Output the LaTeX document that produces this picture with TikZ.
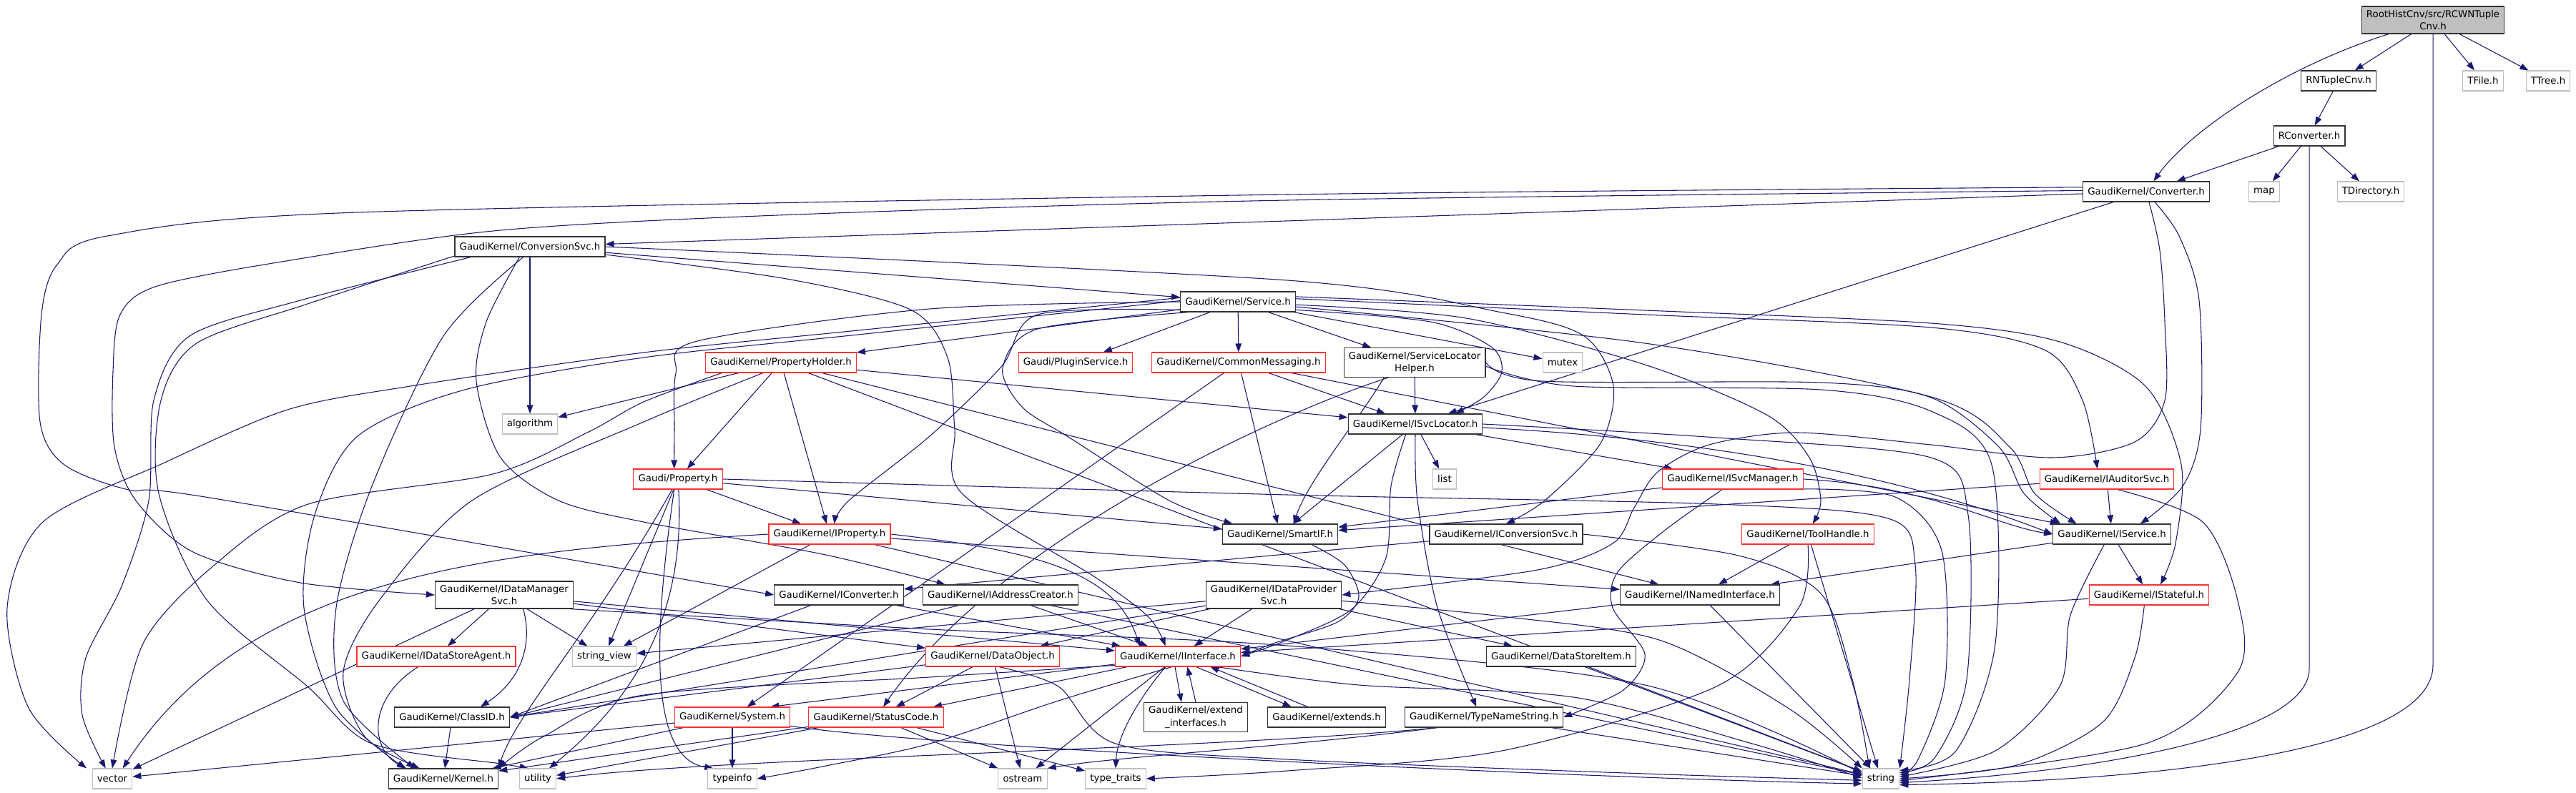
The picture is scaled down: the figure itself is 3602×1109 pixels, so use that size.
\documentclass[tikz,border=0pt]{standalone}
\usepackage{fontspec}
\setmainfont{DejaVu Sans}
\usetikzlibrary{arrows.meta,backgrounds}
\definecolor{inclblue}{HTML}{191970}
\definecolor{hdrred}{HTML}{FF3030}
\definecolor{hdrgray}{HTML}{BFBFBF}
\begin{document}
\begin{tikzpicture}[x=0.75pt,y=-0.75pt,
		hdr/.style={draw=black!80,line width=0.9pt,fill=white,
			font=\fontsize{10}{12.8}\selectfont,align=center,
			inner xsep=5pt,inner ysep=4pt,minimum height=21pt},
		redhdr/.style={hdr,draw=hdrred,line width=0.8pt},
		sysinc/.style={hdr,draw=hdrgray,line width=0.8pt},
		incl/.style={draw=inclblue,line width=0.8pt,-{Triangle[length=9pt,width=6.5pt]}}]
	\useasboundingbox (0,0) rectangle (3602,1109);
	% the converter file
		\node[hdr,fill=hdrgray] (root) at (3402,28) {RootHistCnv/src/RCWNTuple\\Cnv.h};
	% root converter side
		\node[hdr]    (rntuple) at (3270,113) {RNTupleCnv.h};
		\node[sysinc] (tfile)   at (3472,113) {TFile.h};
		\node[sysinc] (ttree)   at (3563,113) {TTree.h};
		\node[hdr]    (rconv)   at (3229,190) {RConverter.h};
		\node[hdr]    (conv)    at (3001,268) {GaudiKernel/Converter.h};
		\node[sysinc] (map)     at (3166,268) {map};
		\node[sysinc] (tdir)    at (3315,268) {TDirectory.h};
	% services
		\node[hdr]    (convsvc)    at (741,345)  {GaudiKernel/ConversionSvc.h};
		\node[hdr]    (service)    at (1731,422) {GaudiKernel/Service.h};
		\node[redhdr] (propholder) at (1092,507) {GaudiKernel/PropertyHolder.h};
		\node[redhdr] (plugin)     at (1504,507) {Gaudi/PluginService.h};
		\node[redhdr] (commsg)     at (1732,507) {GaudiKernel/CommonMessaging.h};
		\node[hdr]    (slhelper)   at (1978,507) {GaudiKernel/ServiceLocator\\Helper.h};
		\node[sysinc] (mutex)      at (2185,507) {mutex};
		\node[sysinc] (algorithm)  at (741,593)  {algorithm};
		\node[hdr]    (isvcloc)    at (1979,593) {GaudiKernel/ISvcLocator.h};
		\node[sysinc] (list)       at (2020,670) {list};
		\node[redhdr] (isvcmgr)    at (2423,670) {GaudiKernel/ISvcManager.h};
		\node[redhdr] (property)   at (948,670)  {Gaudi/Property.h};
		\node[redhdr] (iauditor)   at (2946,670) {GaudiKernel/IAuditorSvc.h};
	% interfaces
		\node[redhdr] (iproperty)  at (1160,747) {GaudiKernel/IProperty.h};
		\node[hdr]    (smartif)    at (1790,747) {GaudiKernel/SmartIF.h};
		\node[hdr]    (iconvsvc)   at (2106,747) {GaudiKernel/IConversionSvc.h};
		\node[redhdr] (toolhandle) at (2528,747) {GaudiKernel/ToolHandle.h};
		\node[hdr]    (iservice)   at (2953,747) {GaudiKernel/IService.h};
		\node[hdr]    (idatamgr)   at (705,832)  {GaudiKernel/IDataManager\\Svc.h};
		\node[hdr]    (iconverter) at (1173,832) {GaudiKernel/IConverter.h};
		\node[hdr]    (iaddr)      at (1399,832) {GaudiKernel/IAddressCreator.h};
		\node[hdr]    (idataprov)  at (1781,832) {GaudiKernel/IDataProvider\\Svc.h};
		\node[hdr]    (inamed)     at (2377,832) {GaudiKernel/INamedInterface.h};
		\node[redhdr] (istateful)  at (3005,832) {GaudiKernel/IStateful.h};
		\node[redhdr] (idsagent)   at (610,918)  {GaudiKernel/IDataStoreAgent.h};
		\node[sysinc] (strview)    at (845,918)  {string\_view};
		\node[redhdr] (dataobj)    at (1388,918) {GaudiKernel/DataObject.h};
		\node[redhdr] (iinterface) at (1647,918) {GaudiKernel/IInterface.h};
		\node[hdr]    (dsitem)     at (2183,918) {GaudiKernel/DataStoreItem.h};
		\node[hdr]    (classid)    at (632,1003)  {GaudiKernel/ClassID.h};
		\node[redhdr] (system)     at (1024,1003) {GaudiKernel/System.h};
		\node[redhdr] (statuscode) at (1225,1003) {GaudiKernel/StatusCode.h};
		\node[hdr]    (extintf)    at (1672,1003) {GaudiKernel/extend\\\_interfaces.h};
		\node[hdr]    (extends)    at (1855,1003) {GaudiKernel/extends.h};
		\node[hdr]    (typename)   at (2075,1003) {GaudiKernel/TypeNameString.h};
	% bottom row
		\node[sysinc] (vector)     at (157,1089)  {vector};
		\node[hdr]    (kernel)     at (620,1089)  {GaudiKernel/Kernel.h};
		\node[sysinc] (utility)    at (752,1089)  {utility};
		\node[sysinc] (typeinfo)   at (1024,1089) {typeinfo};
		\node[sysinc] (ostream)    at (1430,1089) {ostream};
		\node[sysinc] (typetraits) at (1560,1089) {type\_traits};
		\node[sysinc] (string)     at (2630,1089) {string};
	\begin{pgfonlayer}{background}
	% root file
		\foreach \dst in {rntuple,tfile,ttree}
			\draw[incl] (root) -- (\dst);
		\draw[incl] (root) .. controls (3190,95) and (3060,185) .. (conv);
		\draw[incl] (root.south) -- (3402,930) .. controls (3402,1045) and (3050,1092) .. (string.-18);
		\draw[incl] (rntuple) -- (rconv);
		\foreach \dst in {conv,map,tdir}
			\draw[incl] (rconv) -- (\dst);
		\draw[incl] (rconv.south) -- (3229,935) .. controls (3229,1025) and (2950,1078) .. (string.-12);
	% converter
		\draw[incl] (conv) -- (convsvc);
		\draw[incl] (conv) -- (isvcloc);
		\draw[incl] plot[smooth] coordinates {(conv.176) (1800,272) (500,297) (150,330) (80,370) (58,440) (56,590) (90,650) (180,685) (293,696) (iconverter.west)};
		\draw[incl] plot[smooth] coordinates {(conv.179) (1800,280) (1113,300) (700,322) (400,365) (220,400) (168,440) (158,520) (160,625) (190,700) (270,772) (420,815) (idatamgr.west)};
		\draw[incl] plot[smooth] coordinates {([xshift=9pt]conv.south) (3047,330) (3075,420) (3077,600) (3052,680) ([xshift=30pt]iservice.north)};
		\draw[incl] plot[smooth] coordinates {([xshift=3pt]conv.south) (3020,350) (3027,450) (3027,560) (2985,618) (2870,640) (2700,622) (2512,605) (2390,622) (2318,660) (2285,710) (2255,760) (2150,797) (idataprov.east)};
	% conversion service
		\foreach \dst in {service,algorithm}
			\draw[incl] (convsvc) -- (\dst);
		\draw[incl] plot[smooth] coordinates {(convsvc.east) (1800,392) (2100,437) (2215,470) (2256,540) (2238,620) (2160,700) (iconvsvc.north)};
		\draw[incl] plot[smooth] coordinates {(convsvc.-6) (1100,390) (1273,433) (1325,500) (1335,600) (1345,690) (1531,807) (1606,863) ([xshift=-13pt]iinterface.north)};
		\draw[incl] plot[smooth] coordinates {([xshift=-11pt]convsvc.south) (680,450) (666,533) (700,640) (781,700) (900,730) (1150,775) ([xshift=-58pt]iaddr.north)};
		\draw[incl] plot[smooth] coordinates {(convsvc.190) (420,420) (265,470) (215,560) (208,700) (170,820) (120,920) (115,1000) ([xshift=-7pt]vector.north)};
		\draw[incl] plot[smooth] coordinates {(convsvc.187) (430,425) (275,480) (225,560) (222,690) (290,840) (430,960) (520,1040) (700,1068) ([xshift=-10pt]utility.north)};
		\draw[incl] plot[smooth] coordinates {([xshift=-7pt]convsvc.south) (620,470) (520,680) (470,850) (480,980) ([xshift=-30pt]kernel.north)};
	% service
		\foreach \dst in {propholder,plugin,commsg,slhelper,mutex}
			\draw[incl] (service) -- (\dst);
		\draw[incl] plot[smooth] coordinates {(service.-8) (2000,450) (2085,485) (2100,520) (2075,555) ([xshift=42pt]isvcloc.north)};
		\draw[incl] plot[smooth] coordinates {(service.-3) (2050,445) (2300,510) (2470,580) (2530,640) (2546,700) ([xshift=5pt]toolhandle.north)};
		\draw[incl] plot[smooth] coordinates {(service.3) (2300,440) (2700,458) (2860,490) (2912,560) ([xshift=-10pt]iauditor.north)};
		\draw[incl] plot[smooth] coordinates {(service.5) (2300,434) (2700,452) (2880,478) (3000,540) (3050,650) (3042,760) ([xshift=12pt]istateful.north)};
		\draw[incl] plot[smooth] coordinates {(service.-5) (2300,480) (2700,555) (2810,625) (2845,690) ([xshift=-37pt]iservice.north)};
		\draw[incl] plot[smooth] coordinates {(service.west) (1300,432) (975,477) (945,522) (943,600) ([xshift=-4pt]property.north)};
		\draw[incl] plot[smooth] coordinates {(service.-172) (1451,440) (1400,513) (1300,610) (1187,700) ([xshift=5pt]iproperty.north)};
		\draw[incl] plot[smooth] coordinates {(service.-168) (1451,460) (1402,515) (1430,570) (1497,613) (1635,700) ([xshift=-50pt]smartif.north)};
		\draw[incl] plot[smooth] coordinates {(service.176) (1200,462) (900,493) (574,540) (402,573) (230,647) (60,730) (10,850) (40,990) ([xshift=-27pt]vector.north)};
		\draw[incl] plot[smooth] coordinates {(service.179) (1200,468) (900,500) (650,545) (500,610) (440,720) (425,850) (470,990) ([xshift=-40pt]kernel.north)};
	% property holder
		\foreach \dst in {property,iproperty,isvcloc,inamed,string,algorithm}
			\draw[incl] (propholder) -- (\dst);
		\draw[incl] plot[smooth] coordinates {(propholder.-170) (900,562) (821,605) (689,663) (431,705) (300,790) (200,900) (vector.north)};
		\draw[incl] plot[smooth] coordinates {(propholder.-150) (900,590) (660,700) (530,840) (480,940) (510,1030) ([xshift=-25pt]kernel.north)};
	% common messaging
		\foreach \dst in {isvcloc,smartif,iservice,system}
			\draw[incl] (commsg) -- (\dst);
	% service locator helper
		\draw[incl] (slhelper) -- (isvcloc);
		\draw[incl] ([xshift=-32pt]slhelper.south) .. controls (1905,580) and (1830,670) .. ([xshift=14pt]smartif.north);
		\draw[incl] plot[smooth] coordinates {(slhelper.east) (2156,533) (2546,535) (2700,556) (2795,625) (2830,690) ([xshift=-54pt]iservice.north)};
		\draw[incl] plot[smooth] coordinates {(slhelper.-3) (2200,540) (2546,545) (2700,575) (2785,650) (2790,900) (2735,1050) (string.24)};
		\draw[incl] (slhelper.-150) .. controls (1800,573) and (1400,750) .. (statuscode);
	% service locator
		\foreach \dst in {list,isvcmgr,smartif}
			\draw[incl] (isvcloc) -- (\dst);
		\draw[incl] plot[smooth] coordinates {(isvcloc.south) (1982,700) (2010,850) ([xshift=-8pt]typename.north)};
		\draw[incl] plot[smooth] coordinates {([xshift=-10pt]isvcloc.south) (1945,680) (1938,780) (1890,852) (1800,895) (iinterface.east)};
		\draw[incl] (isvcloc.-3) .. controls (2500,620) and (2750,700) .. (iservice.west);
		\draw[incl] plot[smooth] coordinates {(isvcloc.east) (2400,612) (2700,640) (2752,720) (2750,950) (2705,1060) (string.18)};
	% service manager
		\draw[incl] (isvcmgr) -- (smartif);
		\draw[incl] plot[smooth] coordinates {([xshift=-11pt]isvcmgr.south) (2330,740) (2262,800) (2255,850) (2300,915) (2270,965) (typename.east)};
		\draw[incl] (isvcmgr.east) .. controls (2700,680) and (2790,735) .. (iservice.west);
		\draw[incl] plot[smooth] coordinates {(isvcmgr.-8) (2650,695) (2715,770) (2720,950) (2682,1062) (string.12)};
	% property
		\foreach \dst in {iproperty,smartif,strview}
			\draw[incl] (property) -- (\dst);
		\draw[incl] (property) .. controls (830,880) and (720,1000) .. (kernel.north east);
		\draw[incl] (property) .. controls (960,880) and (870,990) .. ([xshift=12pt]utility.north);
		\draw[incl] ([xshift=-4pt]property.south) .. controls (915,880) and (905,1060) .. ([xshift=-20pt]typeinfo.north);
		\draw[incl] plot[smooth] coordinates {(property.east) (1800,692) (2400,705) (2640,725) (2678,790) (2670,950) (string.north east)};
	% property interface
		\foreach \dst in {inamed,string,strview}
			\draw[incl] (iproperty) -- (\dst);
		\draw[incl] (iproperty.east) .. controls (1450,770) and (1560,800) .. ([xshift=-40pt]iinterface.north);
		\draw[incl] (iproperty.west) .. controls (700,770) and (350,800) .. ([xshift=11pt]vector.north);
	% smart pointer
		\draw[incl] plot[smooth] coordinates {([xshift=33pt]smartif.south) (1880,790) (1900,835) (1870,870) (1780,900) (iinterface.east)};
	% conversion service interface
		\draw[incl] (iconvsvc) -- (iconverter);
		\draw[incl] plot[smooth] coordinates {(iconvsvc.east) (2431,777) (2546,830) (2590,950) ([xshift=-12pt]string.north)};
	% tool handle
		\foreach \dst in {inamed,string}
			\draw[incl] (toolhandle) -- (\dst);
		\draw[incl] plot[smooth] coordinates {(toolhandle.south) (2515,850) (2400,960) (2100,1050) (1800,1078) (typetraits.east)};
	% auditor service
		\foreach \dst in {iservice,smartif}
			\draw[incl] (iauditor) -- (\dst);
		\draw[incl] plot[smooth] coordinates {(iauditor.-45) (3080,730) (3129,840) (3129,940) (3000,1040) (string.-6)};
	% service interface
		\foreach \dst in {istateful,inamed}
			\draw[incl] (iservice) -- (\dst);
		\draw[incl] plot[smooth] coordinates {([xshift=-8pt]iservice.south) (2895,860) (2880,960) (2790,1050) (string.6)};
	% state machine
		\draw[incl] (istateful) -- (iinterface);
		\draw[incl] plot[smooth] coordinates {([xshift=-5pt]istateful.south) (2985,920) (2940,1010) (2820,1070) (string.0)};
	% data manager
		\foreach \dst in {idsagent,strview,vector,iinterface,dataobj}
			\draw[incl] (idatamgr) -- (\dst);
		\draw[incl] ([xshift=20pt]idatamgr.south) .. controls (745,900) and (730,950) .. ([xshift=30pt]classid.north);
		\draw[incl] plot[smooth] coordinates {(idatamgr.-12) (1300,880) (1800,903) (2300,958) (string.165)};
		\draw[incl] ([xshift=-19pt]idsagent.south) .. controls (510,980) and (520,1050) .. ([xshift=-39pt]kernel.north);
	% converter interfaces
		\draw[incl] (iconverter) -- (iinterface);
		\foreach \src in {iconverter,iaddr,idataprov,dataobj}
			\draw[incl] (\src) -- (classid.east);
		\foreach \dst in {iinterface,string}
			\draw[incl] (iaddr) -- (\dst);
	% data provider
		\foreach \dst in {dataobj,iinterface,dsitem,strview}
			\draw[incl] (idataprov) -- (\dst);
		\draw[incl] plot[smooth] coordinates {(idataprov.-5) (2100,862) (2320,895) (2500,990) (string.north west)};
	% named interface
		\foreach \dst in {iinterface,string}
			\draw[incl] (inamed) -- (\dst);
	% data object
		\foreach \dst in {statuscode,ostream}
			\draw[incl] (dataobj) -- (\dst);
		\draw[incl] plot[smooth] coordinates {(dataobj.-60) (1480,960) (1560,1040) (1800,1062) (2300,1082) (string.185)};
	% interface
		\draw[incl] (iinterface) -- ([xshift=40pt]system.north);
		\draw[incl] (iinterface) -- ([xshift=60pt]statuscode.north);
		\draw[incl] (iinterface) -- (ostream);
		\draw[incl] ([xshift=-13pt]iinterface.south) .. controls (1590,980) and (1562,1030) .. (typetraits.north);
		\draw[incl] plot[smooth] coordinates {(iinterface.-120) (1480,980) (1300,1040) (1150,1072) (typeinfo.east)};
		\draw[incl] plot[smooth] coordinates {(iinterface.-172) (1300,947) (900,972) (760,1030) (kernel.north east)};
		\draw[incl] plot[smooth] coordinates {(iinterface.-15) (1900,958) (2200,975) (2450,1040) (string.178)};
		\draw[incl] ([xshift=-3pt]iinterface.south) -- ([xshift=-15pt]extintf.north);
		\draw[incl] (extintf.north) -- ([xshift=10pt]iinterface.south);
		\draw[incl] ([xshift=19pt]iinterface.south) -- ([xshift=-37pt]extends.north);
		\draw[incl] ([xshift=-20pt]extends.north) -- ([xshift=34pt]iinterface.south);
	% plain headers
		\draw[incl] (dsitem) -- (string);
		\draw[incl] (classid) -- (kernel);
		\foreach \dst in {kernel,typeinfo,vector}
			\draw[incl] (system) -- (\dst);
		\draw[incl] (system) .. controls (1300,1045) and (2200,1088) .. (string.-165);
		\foreach \dst in {kernel,utility,ostream,typetraits}
			\draw[incl] (statuscode) -- (\dst);
		\draw[incl] (typename) -- (string);
		\draw[incl] ([xshift=-49pt]typename.south) .. controls (1800,1045) and (1560,1058) .. (ostream.north east);
		\draw[incl] ([xshift=-49pt]typename.south) .. controls (1700,1048) and (1000,1060) .. (utility.east);
	\end{pgfonlayer}
\end{tikzpicture}
\end{document}
